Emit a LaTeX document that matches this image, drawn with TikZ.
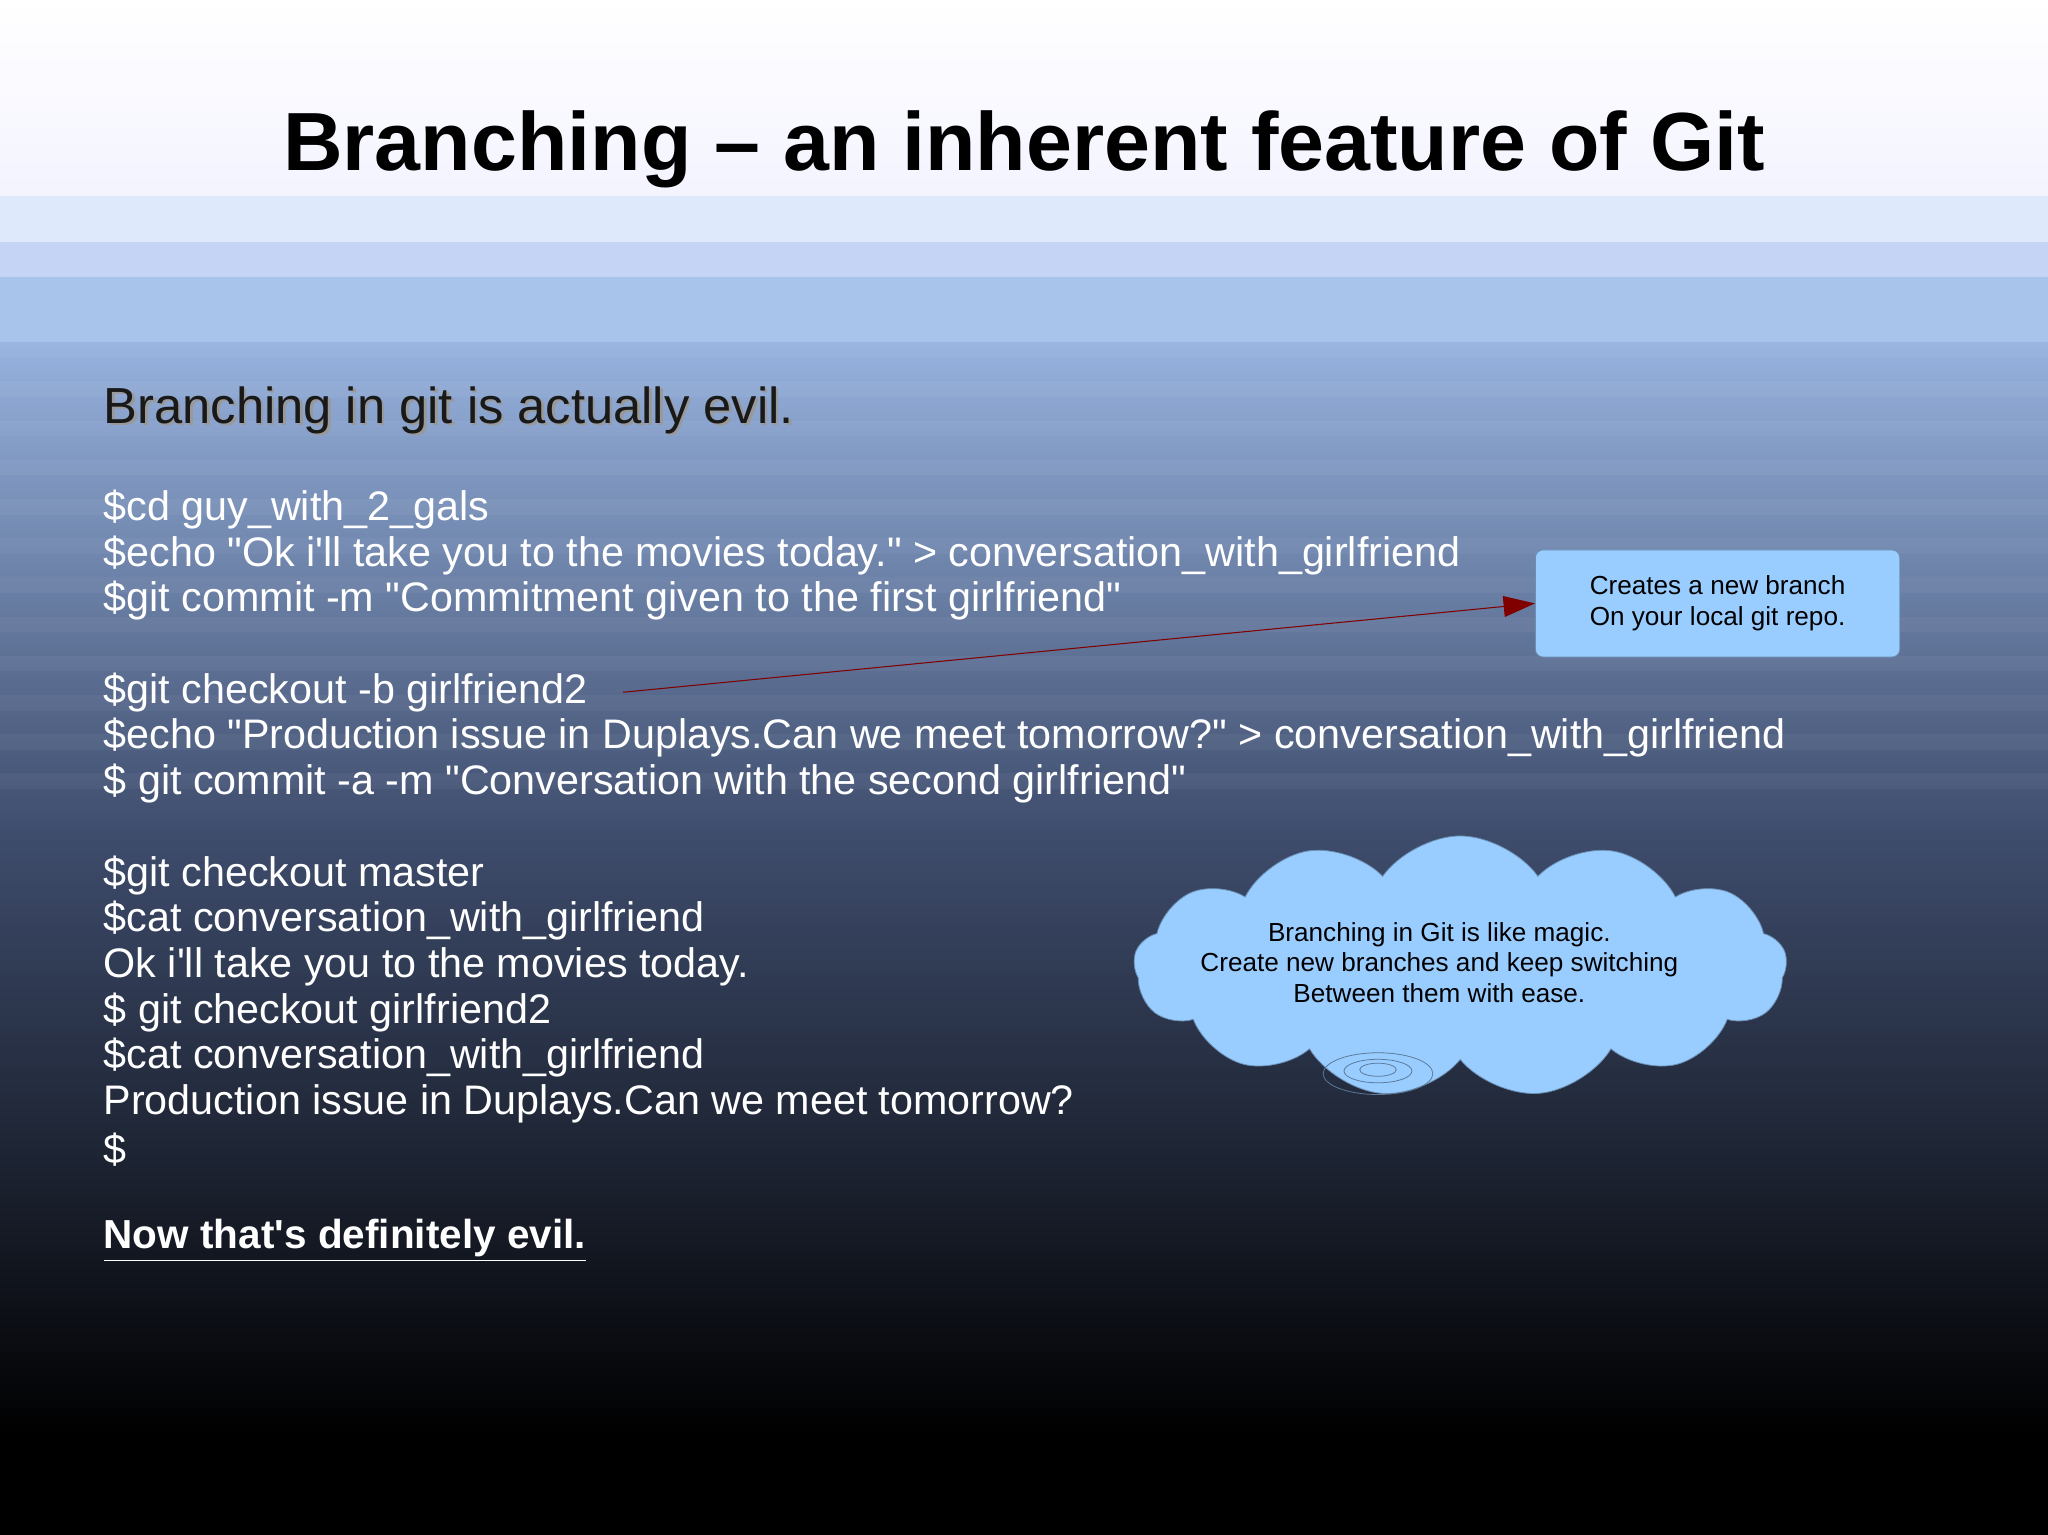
\documentclass[tikz,border=0pt]{standalone}
\usepackage{fontspec}
\setmainfont{Liberation Sans}[Ligatures=TeXOff]
\usetikzlibrary{shapes.symbols,arrows.meta}
\definecolor{calloutblue}{HTML}{99CCFF}
\definecolor{arrowred}{HTML}{800000}
\begin{document}
\begin{tikzpicture}[x=0.5pt,y=-0.5pt,
  line/.style={anchor=west,text=white,font=\fontsize{15.8}{18}\selectfont,inner sep=0pt},
  callout/.style={fill=calloutblue,draw=calloutblue!70!black,line width=0.3pt,font=\fontsize{10}{12}\selectfont,align=center}]
\useasboundingbox (0,0) rectangle (1568,1175);
\fill[white] (0,0) rectangle (1568,150);
\fill[top color=white,bottom color=white!85!blue!30] (0,0) rectangle (1568,150);
\fill[color={rgb,255:red,222;green,234;blue,251}] (0,150) rectangle (1568,185);
\fill[color={rgb,255:red,197;green,211;blue,245}] (0,185) rectangle (1568,212);
\fill[color={rgb,255:red,169;green,196;blue,235}] (0,212) rectangle (1568,262);
\shade[top color={rgb,255:red,150;green,178;blue,222},bottom color={rgb,255:red,62;green,76;blue,108}] (0,262) rectangle (1568,640);
\shade[top color={rgb,255:red,62;green,76;blue,108},bottom color=black] (0,640) rectangle (1568,1100);
\fill[black] (0,1100) rectangle (1568,1175);
\foreach \y in {262,292,322,352,382,412,442,472,502,532,562,592}{\fill[white,opacity=0.04] (0,\y) rectangle (1568,\y+12);}

\node[font=\fontsize{31.6}{38}\selectfont\bfseries] (title) at (784,114) {Branching – an inherent feature of Git};
\node[anchor=west,inner sep=0pt,font=\fontsize{19.4}{22}\selectfont,text=black!40] (h0) at (81,316) {Branching in git is actually evil.};
\node[anchor=west,inner sep=0pt,font=\fontsize{19.4}{22}\selectfont,text=black!90] (h) at (79,314) {Branching in git is actually evil.};

\node[line] (l1) at (79,390) {\$cd guy\_with\_2\_gals};
\node[line] (l2) at (79,425) {\$echo "Ok i'll take you to the movies today." > conversation\_with\_girlfriend};
\node[line] (l3) at (79,460) {\$git commit -m "Commitment given to the first girlfriend"};
\node[line] (l5) at (79,530) {\$git checkout -b girlfriend2};
\node[line] (l6) at (79,565) {\$echo "Production issue in Duplays.Can we meet tomorrow?" > conversation\_with\_girlfriend};
\node[line] (l7) at (79,600) {\$ git commit -a -m "Conversation with the second girlfriend"};
\node[line] (l9) at (79,670) {\$git checkout master};
\node[line] (l10) at (79,705) {\$cat conversation\_with\_girlfriend};
\node[line] (l11) at (79,740) {Ok i'll take you to the movies today.};
\node[line] (l12) at (79,775) {\$ git checkout girlfriend2};
\node[line] (l13) at (79,810) {\$cat conversation\_with\_girlfriend};
\node[line] (l14) at (79,845) {Production issue in Duplays.Can we meet tomorrow?};
\node[line] (l15) at (79,880) {\$};
\node[line,font=\fontsize{15.5}{18}\selectfont\bfseries] (l17) at (79,950) {\underline{Now that's definitely evil.}};

\node[callout,rounded corners=3pt,minimum width=139.5pt,minimum height=41pt] (box) at (1315,462) {Creates a new branch\\On your local git repo.};
\coordinate (src) at (477,530);
\draw[arrowred,line width=0.4pt,-{Triangle[length=12pt,width=8pt]}] (src) -- (box.west);

\node[callout,cloud,cloud puffs=13,cloud puff arc=110,aspect=2.6,minimum width=250pt,minimum height=100pt,inner sep=0pt] (cloud) at (1118,740) {};
\node[font=\fontsize{10}{11.5}\selectfont,align=center] (ctext) at (1102,737) {Branching in Git is like magic.\\Create new branches and keep switching\\Between them with ease.};
\draw[calloutblue!60!black,line width=0.3pt] (1055,822) ellipse (21pt and 8pt);
\draw[calloutblue!60!black,line width=0.3pt] (1055,820) ellipse (13pt and 4.5pt);
\draw[calloutblue!60!black,line width=0.3pt] (1055,819) ellipse (7pt and 2.5pt);
\end{tikzpicture}
\end{document}
